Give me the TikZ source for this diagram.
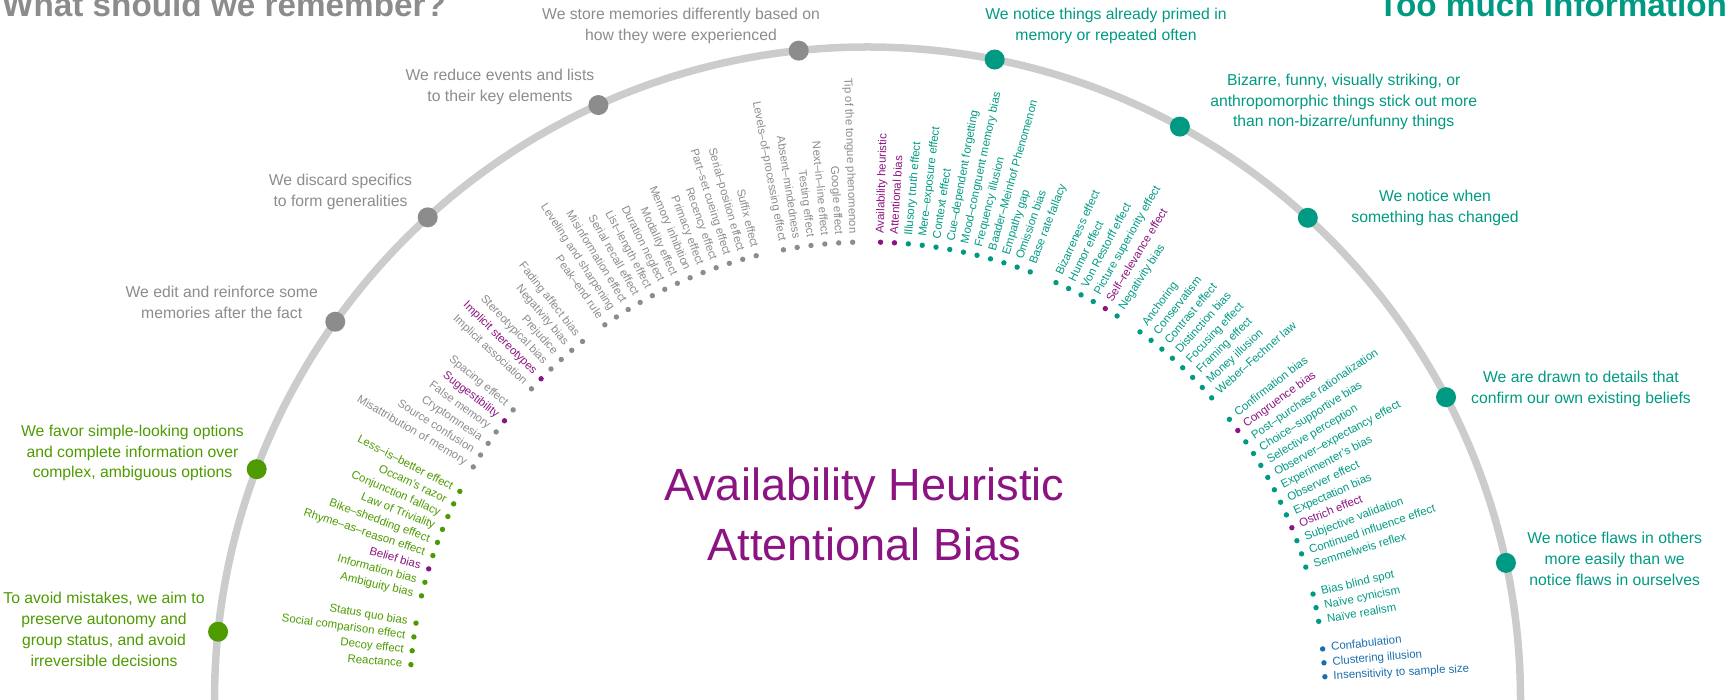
\documentclass[tikz,border=0pt]{standalone}
\usepackage{fontspec}
\setmainfont{Liberation Sans}

\definecolor{memgray}{RGB}{140,140,140}
\definecolor{simgreen}{RGB}{77,155,0}
\definecolor{infteal}{RGB}{0,154,130}
\definecolor{hilpurple}{RGB}{140,20,130}
\definecolor{mnblue}{RGB}{25,110,175}
\definecolor{arcgray}{RGB}{204,204,204}

\begin{document}
\begin{tikzpicture}[x=1bp, y=1bp,
  bias/.style={font=\fontsize{11.5}{12}\selectfont, inner sep=0pt, text height=8.3bp, text depth=2.4bp},
  glabel/.style={font=\fontsize{15.8}{21}\selectfont, align=center, inner sep=0pt},
  gdot/.style={circle, fill=#1, inner sep=0pt, minimum size=20bp},
  headline/.style={font=\fontsize{33.4}{36}\selectfont\bfseries, inner sep=0pt}]

\def\cx{867.5};
\def\cy{0};
\def\rin{458};   % ring of small dots
\def\rarc{653};  % grey arc
\def\azero{175.57};
\def\dang{1.744};

\useasboundingbox (0,0) rectangle (1728,700);

\begin{scope}[shift={(\cx,\cy)}]
% arc
\draw[arcgray, line width=7.5bp] (180:\rarc) arc (180:0:\rarc);

% left half, text ends at the dot
\foreach \i/\c/\t in {0/simgreen/Reactance, 1/simgreen/Decoy effect, 2/simgreen/Social comparison effect, 3/simgreen/Status quo bias,
  5/simgreen/Ambiguity bias, 6/simgreen/Information bias, 7/hilpurple/Belief bias, 8/simgreen/Rhyme--as--reason effect,
  9/simgreen/Bike--shedding effect, 10/simgreen/Law of Triviality, 11/simgreen/Conjunction fallacy,
  12/simgreen/Occam's razor, 13/simgreen/Less--is--better effect,
  15/memgray/Misattribution of memory, 16/memgray/Source confusion, 17/memgray/Cryptomnesia,
  18/memgray/False memory, 19/hilpurple/Suggestibility, 20/memgray/Spacing effect,
  22/memgray/Implicit association, 23/hilpurple/Implicit stereotypes, 24/memgray/Stereotypical bias,
  25/memgray/Prejudice, 26/memgray/Negativity bias, 27/memgray/Fading affect bias,
  29/memgray/Peak--end rule, 30/memgray/Leveling and sharpening, 31/memgray/Misinformation effect,
  32/memgray/Serial recall effect, 33/memgray/List--length effect, 34/memgray/Duration neglect,
  35/memgray/Modality effect, 36/memgray/Memory inhibition, 37/memgray/Primacy effect,
  38/memgray/Recency effect, 39/memgray/Part--set cueing effect, 40/memgray/Serial--position effect,
  41/memgray/Suffix effect,
  43/memgray/Levels--of--processing effect, 44/memgray/Absent--mindedness, 45/memgray/Testing effect,
  46/memgray/Next--in--line effect, 47/memgray/Google effect, 48/memgray/Tip of the tongue phenomenon}{
  \pgfmathsetmacro{\a}{\azero-\i*\dang}
  \fill[\c] (\a:\rin) circle (2.7);
  \node[bias, text=\c, anchor=east, rotate=\a-180] (b\i) at (\a:\rin+8.5) {\t};
}

% right half, text starts at the dot
\foreach \i/\c/\t in {50/hilpurple/Availability heuristic, 51/hilpurple/Attentional bias, 52/infteal/Illusory truth effect,
  53/infteal/Mere--exposure effect, 54/infteal/Context effect, 55/infteal/Cue--dependent forgetting,
  56/infteal/Mood--congruent memory bias, 57/infteal/Frequency illusion, 58/infteal/Baader--Meinhof Phenomenon,
  59/infteal/Empathy gap, 60/infteal/Omission bias, 61/infteal/Base rate fallacy,
  63/infteal/Bizarreness effect, 64/infteal/Humor effect, 65/infteal/Von Restorff effect,
  66/infteal/Picture superiority effect, 67/hilpurple/Self--relevance effect, 68/infteal/Negativity bias,
  70/infteal/Anchoring, 71/infteal/Conservatism, 72/infteal/Contrast effect, 73/infteal/Distinction bias,
  74/infteal/Focusing effect, 75/infteal/Framing effect, 76/infteal/Money illusion, 77/infteal/Weber--Fechner law,
  79/infteal/Confirmation bias, 80/hilpurple/Congruence bias, 81/infteal/Post--purchase rationalization,
  82/infteal/Choice--supportive bias, 83/infteal/Selective perception, 84/infteal/Observer--expectancy effect,
  85/infteal/Experimenter's bias, 86/infteal/Observer effect, 87/infteal/Expectation bias,
  88/hilpurple/Ostrich effect, 89/infteal/Subjective validation, 90/infteal/Continued influence effect,
  91/infteal/Semmelweis reflex,
  93/infteal/Bias blind spot, 94/infteal/Naïve cynicism, 95/infteal/Naïve realism,
  97/mnblue/Confabulation, 98/mnblue/Clustering illusion, 99/mnblue/Insensitivity to sample size}{
  \pgfmathsetmacro{\a}{\azero-\i*\dang}
  \fill[\c] (\a:\rin) circle (2.7);
  \node[bias, text=\c, anchor=west, rotate=\a] (b\i) at (\a:\rin+8.5) {\t};
}

% group dots on the arc
\node[gdot=simgreen] (gavoid) at (174.0:\rarc) {};
\node[gdot=simgreen] (gsimple) at (159.3:\rarc) {};
\node[gdot=memgray] (gedit) at (144.6:\rarc) {};
\node[gdot=memgray] (gdiscard) at (132.34:\rarc) {};
\node[gdot=memgray] (greduce) at (114.34:\rarc) {};
\node[gdot=memgray] (gstore) at (96.05:\rarc) {};
\node[gdot=infteal] (gprimed) at (78.77:\rarc) {};
\node[gdot=infteal] (gbizarre) at (61.42:\rarc) {};
\node[gdot=infteal] (gchange) at (47.6:\rarc) {};
\node[gdot=infteal] (gconfirm) at (27.63:\rarc) {};
\node[gdot=infteal] (gflaws) at (12.12:\rarc) {};
\end{scope}

% group labels
\node[glabel, text=simgreen] (lavoid) at (104,70.5) {To avoid mistakes, we aim to\\preserve autonomy and\\group status, and avoid\\irreversible decisions};
\node[glabel, text=simgreen] (lsimple) at (132.5,247) {We favor simple-looking options\\and complete information over\\complex, ambiguous options};
\node[glabel, text=memgray] (ledit) at (221.7,398) {We edit and reinforce some\\memories after the fact};
\node[glabel, text=memgray] (ldiscard) at (340.5,507.7) {We discard specifics\\to form generalities};
\node[glabel, text=memgray] (lreduce) at (500,613.5) {We reduce events and lists\\to their key elements};
\node[glabel, text=memgray] (lstore) at (681,673.7) {We store memories differently based on\\how they were experienced};
\node[glabel, text=infteal] (lprimed) at (1106,673.7) {We notice things already primed in\\memory or repeated often};
\node[glabel, text=infteal] (lbizarre) at (1343.7,598) {Bizarre, funny, visually striking, or\\anthropomorphic things stick out more\\than non-bizarre/unfunny things};
\node[glabel, text=infteal] (lchange) at (1435,492.3) {We notice when\\something has changed};
\node[glabel, text=infteal] (lconfirm) at (1581,311) {We are drawn to details that\\confirm our own existing beliefs};
\node[glabel, text=infteal] (lflaws) at (1614.7,141.4) {We notice flaws in others\\more easily than we\\notice flaws in ourselves};

% headings
\node[headline, text=memgray, anchor=base west] (hmem) at (2,683.5) {What should we remember?};
\node[headline, text=infteal, anchor=base west] (hinf) at (1378,683.5) {Too much information};

% centre
\node[font=\fontsize{45.3}{50}\selectfont, text=hilpurple, inner sep=0pt, anchor=base] (cavail) at (864.3,199.3) {Availability Heuristic};
\node[font=\fontsize{45.3}{50}\selectfont, text=hilpurple, inner sep=0pt, anchor=base] (cattn) at (864.3,139.3) {Attentional Bias};

\end{tikzpicture}
\end{document}
